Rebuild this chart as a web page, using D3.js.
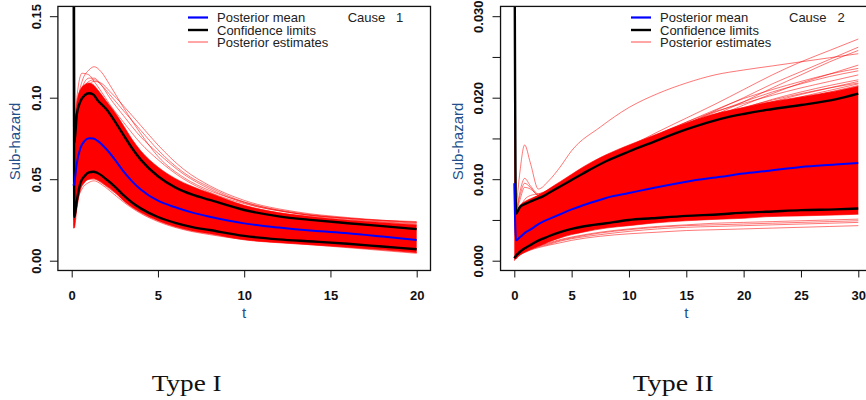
<!DOCTYPE html>
<html>
<head>
<meta charset="utf-8">
<script src="https://cdn.jsdelivr.net/npm/d3@7"></script>
<style>
  body { margin: 0; background: #fff; }
  svg { display: block; }
</style>
</head>
<body>
<svg id="chart" width="866" height="400"></svg>
<script>
// ---------------- Cause 1 (Type I) ----------------
const time1 = [0.1, 0.15, 0.3, 0.5, 0.75, 1, 1.25, 1.5, 2, 2.5, 3, 3.5, 4, 5, 6, 7, 8, 10, 12, 14, 16, 18, 20];
const mean1 = [0.046, 0.0477, 0.060, 0.069, 0.0735, 0.0751, 0.075, 0.0735, 0.0685, 0.062, 0.0548, 0.0487, 0.0437, 0.0368, 0.0328, 0.0295, 0.0270, 0.0229, 0.0203, 0.0183, 0.0168, 0.0148, 0.0127];
const lower1 = [0.5, 0.0268, 0.037, 0.0475, 0.052, 0.0542, 0.0546, 0.0538, 0.0500, 0.0455, 0.0402, 0.0357, 0.0321, 0.0268, 0.0232, 0.0206, 0.0188, 0.0152, 0.0131, 0.0118, 0.0104, 0.0087, 0.0070];
const upper1 = [0.5, 0.072, 0.090, 0.0976, 0.1015, 0.1027, 0.102, 0.0985, 0.093, 0.0855, 0.0772, 0.0690, 0.0620, 0.0518, 0.0450, 0.0405, 0.0373, 0.0311, 0.0272, 0.0249, 0.0230, 0.0212, 0.0194];
// bulk of the posterior draws (dense region)
const bulkLow1 = [0.02, 0.02, 0.032, 0.043, 0.048, 0.050, 0.0505, 0.0495, 0.046, 0.042, 0.0368, 0.0328, 0.0295, 0.0245, 0.0208, 0.0182, 0.0165, 0.0128, 0.011, 0.0097, 0.0083, 0.0068, 0.0050];
const bulkHigh1 = [0.5, 0.08, 0.097, 0.105, 0.108, 0.109, 0.108, 0.105, 0.098, 0.091, 0.083, 0.0745, 0.0675, 0.0575, 0.0505, 0.0455, 0.0415, 0.034, 0.0295, 0.027, 0.025, 0.0235, 0.022];
// individual draws outside the bulk
const drawTime1 = [0.12, 0.3, 0.6, 1, 1.3, 1.7, 2.2, 3, 4, 5, 6.5, 8, 10, 13, 16, 20];
const draws1 = [
  [0.025, 0.090, 0.110, 0.117, 0.119, 0.116, 0.108, 0.094, 0.078, 0.064, 0.051, 0.043, 0.036, 0.029, 0.026, 0.024],
  [0.030, 0.100, 0.115, 0.114, 0.110, 0.104, 0.096, 0.085, 0.072, 0.062, 0.050, 0.042, 0.035, 0.029, 0.026, 0.0235],
  [0.022, 0.080, 0.100, 0.108, 0.110, 0.109, 0.104, 0.095, 0.083, 0.071, 0.056, 0.046, 0.037, 0.030, 0.0265, 0.0235],
  [0.025, 0.085, 0.104, 0.110, 0.111, 0.108, 0.102, 0.092, 0.080, 0.068, 0.054, 0.045, 0.036, 0.0295, 0.026, 0.023],
  [0.024, 0.088, 0.106, 0.112, 0.112, 0.108, 0.100, 0.089, 0.076, 0.066, 0.053, 0.044, 0.0355, 0.029, 0.0255, 0.0225],
  [0.020, 0.035, 0.044, 0.048, 0.049, 0.047, 0.043, 0.036, 0.029, 0.024, 0.019, 0.016, 0.013, 0.0105, 0.008, 0.0045],
  [0.021, 0.038, 0.047, 0.050, 0.050, 0.048, 0.044, 0.038, 0.031, 0.025, 0.020, 0.017, 0.0135, 0.011, 0.0085, 0.005]
];
const xTicks1 = [0, 5, 10, 15, 20];
const yTicks1 = [0, 0.05, 0.10, 0.15];
const yTickLabels1 = ["0.00", "0.05", "0.10", "0.15"];

// ---------------- Cause 2 (Type II) ----------------
const time2 = [0, 0.15, 0.5, 1, 1.5, 2, 2.5, 3, 4, 5, 6, 8, 10, 12, 15, 18, 20, 22, 25, 28, 30];
const mean2 = [0.0095, 0.0025, 0.0029, 0.0035, 0.0039, 0.0044, 0.0048, 0.0051, 0.0057, 0.0063, 0.0068, 0.0077, 0.0083, 0.0089, 0.0097, 0.0103, 0.0107, 0.0110, 0.0115, 0.0118, 0.0120];
const lower2 = [0.0003, 0.0006, 0.0011, 0.0016, 0.0020, 0.0024, 0.0027, 0.0030, 0.0035, 0.0039, 0.0042, 0.0046, 0.0050, 0.0052, 0.0055, 0.0057, 0.0059, 0.0060, 0.0062, 0.0063, 0.0064];
const upper2 = [0.05, 0.0058, 0.0066, 0.0070, 0.0073, 0.0076, 0.0079, 0.0083, 0.0091, 0.0099, 0.0107, 0.0122, 0.0134, 0.0145, 0.0161, 0.0174, 0.0180, 0.0185, 0.0191, 0.0198, 0.0205];
const bulkLow2 = [0, 0.0003, 0.0007, 0.0011, 0.0014, 0.0017, 0.0020, 0.0023, 0.0028, 0.0032, 0.0035, 0.0040, 0.0043, 0.0046, 0.0049, 0.0051, 0.0052, 0.0054, 0.0055, 0.0056, 0.0057];
const bulkHigh2 = [0.05, 0.0060, 0.0068, 0.0073, 0.0076, 0.0079, 0.0083, 0.0088, 0.0097, 0.0106, 0.0115, 0.0130, 0.0142, 0.0153, 0.0169, 0.0182, 0.0188, 0.0194, 0.0201, 0.0208, 0.0214];
const drawTime2 = [0.15, 0.5, 0.9, 1.4, 2.1, 3, 4, 5, 7.5, 10, 12.5, 15, 17.5, 20, 22.5, 25, 27.5, 30];
const draws2 = [
  [0.0060, 0.0065, 0.0070, 0.0075, 0.0080, 0.0087, 0.0095, 0.0103, 0.0122, 0.0140, 0.0158, 0.0175, 0.0192, 0.0210, 0.0228, 0.0244, 0.0258, 0.0272],
  [0.0060, 0.0110, 0.0142, 0.0120, 0.0088, 0.0098, 0.0115, 0.0135, 0.0164, 0.0188, 0.0205, 0.0218, 0.0228, 0.0234, 0.0239, 0.0244, 0.0249, 0.0254],
  [0.0058, 0.0064, 0.0069, 0.0074, 0.0080, 0.0086, 0.0093, 0.0100, 0.0117, 0.0133, 0.0150, 0.0167, 0.0184, 0.0200, 0.0217, 0.0232, 0.0247, 0.0262],
  [0.0058, 0.0063, 0.0068, 0.0073, 0.0078, 0.0084, 0.0091, 0.0098, 0.0115, 0.0131, 0.0147, 0.0163, 0.0179, 0.0195, 0.0212, 0.0228, 0.0244, 0.0258],
  [0.0058, 0.0064, 0.0070, 0.0075, 0.0080, 0.0086, 0.0093, 0.0100, 0.0118, 0.0136, 0.0153, 0.0168, 0.0182, 0.0195, 0.0207, 0.0217, 0.0226, 0.0233],
  [0.0058, 0.0065, 0.0075, 0.0080, 0.0082, 0.0087, 0.0094, 0.0101, 0.0120, 0.0138, 0.0155, 0.0170, 0.0183, 0.0193, 0.0203, 0.0212, 0.0220, 0.0228],
  [0.0058, 0.0085, 0.0101, 0.0092, 0.0082, 0.0087, 0.0094, 0.0101, 0.0118, 0.0134, 0.0149, 0.0162, 0.0174, 0.0185, 0.0195, 0.0204, 0.0212, 0.0220],
  [0.0058, 0.0080, 0.0095, 0.0090, 0.0080, 0.0085, 0.0092, 0.0099, 0.0116, 0.0131, 0.0145, 0.0158, 0.0170, 0.0181, 0.0191, 0.0199, 0.0207, 0.0215],
  [0.0058, 0.0063, 0.0068, 0.0072, 0.0077, 0.0083, 0.0091, 0.0099, 0.0117, 0.0133, 0.0148, 0.0162, 0.0175, 0.0187, 0.0198, 0.0207, 0.0215, 0.0222],
  [0.0058, 0.0066, 0.0072, 0.0076, 0.0080, 0.0086, 0.0094, 0.0102, 0.0121, 0.0138, 0.0152, 0.0165, 0.0177, 0.0188, 0.0197, 0.0205, 0.0212, 0.0218],
  [0.0058, 0.0062, 0.0066, 0.0070, 0.0075, 0.0081, 0.0088, 0.0095, 0.0112, 0.0129, 0.0145, 0.0160, 0.0176, 0.0191, 0.0205, 0.0218, 0.0229, 0.0240],
  [0.0058, 0.0064, 0.0069, 0.0073, 0.0078, 0.0084, 0.0092, 0.0100, 0.0119, 0.0137, 0.0154, 0.0170, 0.0185, 0.0199, 0.0210, 0.0220, 0.0229, 0.0236],
  [0.0058, 0.0075, 0.0090, 0.0088, 0.0081, 0.0086, 0.0093, 0.0100, 0.0117, 0.0132, 0.0146, 0.0159, 0.0171, 0.0182, 0.0192, 0.0201, 0.0209, 0.0217],
  [0.0002, 0.0007, 0.0010, 0.0013, 0.0016, 0.0019, 0.0022, 0.0025, 0.0030, 0.0033, 0.0035, 0.0037, 0.0038, 0.0039, 0.0040, 0.0041, 0.0042, 0.0043],
  [0.0003, 0.0009, 0.0013, 0.0016, 0.0019, 0.0022, 0.0026, 0.0029, 0.0035, 0.0039, 0.0042, 0.0044, 0.0046, 0.0047, 0.0048, 0.0049, 0.0050, 0.0051],
  [0.0002, 0.0008, 0.0011, 0.0014, 0.0017, 0.0020, 0.0024, 0.0027, 0.0032, 0.0036, 0.0039, 0.0041, 0.0042, 0.0043, 0.0044, 0.0045, 0.0046, 0.0047],
  [0.0003, 0.0009, 0.0012, 0.0015, 0.0018, 0.0021, 0.0025, 0.0028, 0.0034, 0.0038, 0.0041, 0.0043, 0.0044, 0.0045, 0.0046, 0.0047, 0.0048, 0.0049]
];
const xTicks2 = [0, 5, 10, 15, 20, 25, 30];
const yTicks2 = [0, 0.005, 0.010, 0.015, 0.020, 0.025, 0.030];
const yTickLabels2 = ["0.000", "", "0.010", "", "0.020", "", "0.030"];

const legendLabels = ["Posterior mean", "Confidence limits", "Posterior estimates"];
const captions = ["Type I", "Type II"];

// ---------------- drawing ----------------
const svg = d3.select("#chart");
const sans = "'Liberation Sans', Arial, Helvetica, sans-serif";
const labelBlue = "#24508a";

const panels = [
  {
    id: "p1", time: time1, mean: mean1, lower: lower1, upper: upper1,
    bulkLow: bulkLow1, bulkHigh: bulkHigh1, drawTime: drawTime1, draws: draws1,
    xTicks: xTicks1, yTicks: yTicks1, yTickLabels: yTickLabels1,
    xDomain: [0, 20], yDomain: [0, 0.15],
    xRange: [71.7, 416.7], yRange: [260.7, 16.2],
    cause: "Cause   1", legendX: 188, causeX: 347.7, ylabX: 15, caption: captions[0], captionX: 151.7, captionW: 70
  },
  {
    id: "p2", time: time2, mean: mean2, lower: lower2, upper: upper2,
    bulkLow: bulkLow2, bulkHigh: bulkHigh2, drawTime: drawTime2, draws: draws2,
    xTicks: xTicks2, yTicks: yTicks2, yTickLabels: yTickLabels2,
    xDomain: [0, 30], yDomain: [0, 0.03],
    xRange: [514.3, 858.3], yRange: [260.7, 16.2],
    cause: "Cause   2", legendX: 631, causeX: 789, ylabX: 457.5, caption: captions[1], captionX: 632.7, captionW: 81
  }
];

panels.forEach(p => {
  const x = d3.scaleLinear().domain(p.xDomain).range(p.xRange);
  const y = d3.scaleLinear().domain(p.yDomain).range(p.yRange);
  // plot region extends 4% beyond the data range on each side
  const xs = p.xDomain[1] - p.xDomain[0], ys = p.yDomain[1] - p.yDomain[0];
  const bx0 = x(p.xDomain[0] - 0.04 * xs), bx1 = x(p.xDomain[1] + 0.04 * xs);
  const by0 = y(p.yDomain[1] + 0.04 * ys), by1 = y(p.yDomain[0] - 0.04 * ys);

  const g = svg.append("g");
  g.append("clipPath").attr("id", "clip-" + p.id)
    .append("rect").attr("x", bx0).attr("y", by0).attr("width", bx1 - bx0).attr("height", by1 - by0);
  const plot = g.append("g").attr("clip-path", `url(#clip-${p.id})`);

  const line = d3.line().x(d => x(d[0])).y(d => y(d[1])).curve(d3.curveMonotoneX);
  const area = d3.area().x(d => x(d[0])).y0(d => y(d[1])).y1(d => y(d[2])).curve(d3.curveMonotoneX);

  // dense bundle of posterior curves
  const bulk = p.time.map((t, i) => [t, p.bulkLow[i], p.bulkHigh[i]]);
  plot.append("path").attr("d", area(bulk)).attr("fill", "#ff0000");
  plot.append("path").attr("d", line(bulk.map(d => [d[0], d[1]])))
    .attr("fill", "none").attr("stroke", "#ff0000").attr("stroke-width", 1).attr("stroke-opacity", 0.6);
  plot.append("path").attr("d", line(bulk.map(d => [d[0], d[2]])))
    .attr("fill", "none").attr("stroke", "#ff0000").attr("stroke-width", 1).attr("stroke-opacity", 0.6);

  // individual outlying posterior curves
  p.draws.forEach(vals => {
    plot.append("path").attr("d", line(p.drawTime.map((t, i) => [t, vals[i]])))
      .attr("fill", "none").attr("stroke", "#ff0000").attr("stroke-width", 0.9).attr("stroke-opacity", 0.6);
  });

  // confidence limits and posterior mean
  [p.lower, p.upper].forEach(vals => {
    plot.append("path").attr("d", line(p.time.map((t, i) => [t, vals[i]])))
      .attr("fill", "none").attr("stroke", "#000").attr("stroke-width", 2.4);
  });
  plot.append("path").attr("d", line(p.time.map((t, i) => [t, p.mean[i]])))
    .attr("fill", "none").attr("stroke", "#0000ff").attr("stroke-width", 2);

  // frame
  g.append("rect").attr("x", bx0).attr("y", by0).attr("width", bx1 - bx0).attr("height", by1 - by0)
    .attr("fill", "none").attr("stroke", "#111").attr("stroke-width", 1.3);

  // x axis
  const xa = g.append("g").attr("transform", `translate(0,${by1})`)
    .call(d3.axisBottom(x).tickValues(p.xTicks).tickSize(7).tickFormat(d3.format("d")));
  xa.select(".domain").remove();
  xa.selectAll(".tick line").attr("stroke", "#111").attr("stroke-width", 1);
  xa.selectAll(".tick text").attr("y", 29.5).attr("dy", 0)
    .attr("font-family", sans).attr("font-weight", "bold").attr("font-size", 13).attr("fill", "#111");

  // y axis
  const ya = g.append("g").attr("transform", `translate(${bx0},0)`)
    .call(d3.axisLeft(y).tickValues(p.yTicks).tickSize(8).tickFormat((d, i) => p.yTickLabels[i]));
  ya.select(".domain").remove();
  ya.selectAll(".tick line").attr("stroke", "#111").attr("stroke-width", 1);
  ya.selectAll(".tick text").attr("transform", "rotate(-90)")
    .attr("x", 0).attr("y", -17.4).attr("dy", 0).attr("text-anchor", "middle")
    .attr("font-family", sans).attr("font-weight", "bold").attr("font-size", 13).attr("fill", "#111");

  // axis titles
  g.append("text").attr("x", x(p.xDomain[0] + xs / 2)).attr("y", 318)
    .attr("text-anchor", "middle").attr("font-family", sans).attr("font-size", 15)
    .attr("fill", labelBlue).text("t");
  g.append("text").attr("transform", `translate(${p.ylabX + 5},${(by0 + by1) / 2 + 3}) rotate(-90)`)
    .attr("text-anchor", "middle").attr("font-family", sans).attr("font-size", 15)
    .attr("fill", labelBlue).text("Sub-hazard");

  // legend
  const rows = [17.5, 30, 42];
  const styles = [
    { c: "#0000ff", w: 2.2, o: 1 },
    { c: "#000", w: 2.4, o: 1 },
    { c: "#ff0000", w: 1, o: 0.7 }
  ];
  legendLabels.forEach((lab, i) => {
    g.append("line").attr("x1", p.legendX).attr("x2", p.legendX + 20)
      .attr("y1", rows[i]).attr("y2", rows[i])
      .attr("stroke", styles[i].c).attr("stroke-width", styles[i].w).attr("stroke-opacity", styles[i].o);
    g.append("text").attr("x", p.legendX + 29).attr("y", rows[i] + 4.6)
      .attr("font-family", sans).attr("font-size", 13).attr("fill", "#222").text(lab);
  });
  g.append("text").attr("x", p.causeX).attr("y", rows[0] + 4.6)
    .attr("font-family", sans).attr("font-size", 13).attr("fill", "#222")
    .style("white-space", "pre").text(p.cause);

  // caption under the panel
  svg.append("text").attr("x", p.captionX).attr("y", 390.5)
    .attr("font-family", "'Liberation Serif', 'DejaVu Serif', serif").attr("font-size", 24)
    .attr("textLength", p.captionW).attr("lengthAdjust", "spacingAndGlyphs")
    .attr("fill", "#111").text(p.caption);
});
</script>
</body>
</html>
